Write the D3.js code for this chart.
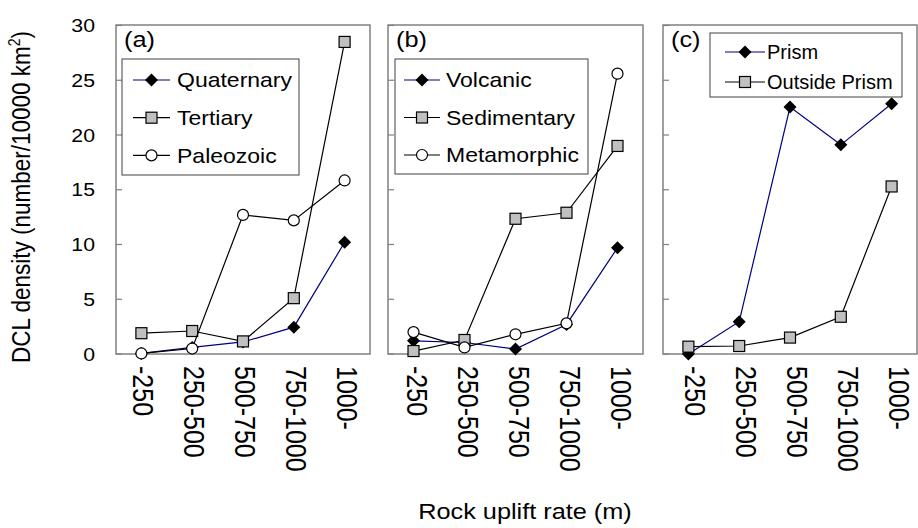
<!DOCTYPE html>
<html>
<head>
<meta charset="utf-8">
<script src="https://cdn.jsdelivr.net/npm/d3@7"></script>
<style>
  body { margin: 0; background: #fff; }
  text { font-family: "Liberation Sans", Arial, sans-serif; fill: #000; }
</style>
</head>
<body>
<div id="chart"></div>
<script>
// categories and ticks
const categories = ["-250", "250-500", "500-750", "750-1000", "1000-"];
const yTicks = [0, 5, 10, 15, 20, 25, 30];

// (a) age
const quaternary = [0.05, 0.6, 1.1, 2.45, 10.2];
const tertiary = [1.9, 2.1, 1.15, 5.1, 28.5];
const paleozoic = [0.05, 0.5, 12.7, 12.2, 15.85];

// (b) lithology
const volcanic = [1.2, 1.05, 0.45, 2.7, 9.7];
const sedimentary = [0.27, 1.28, 12.35, 12.9, 19.0];
const metamorphic = [2.0, 0.6, 1.8, 2.8, 25.6];

// (c) prism
const prism = [0.0, 2.95, 22.55, 19.1, 22.85];
const outsidePrism = [0.67, 0.73, 1.5, 3.4, 15.3];

var width = 918, height = 528;
var top_ = 25, bottom = 354;
var sx = 1.15; // the original picture is a bit wider than tall text-wise

var svg = d3.select("#chart").append("svg")
    .attr("width", width)
    .attr("height", height);

var y = d3.scaleLinear().domain([0, 30]).range([bottom, top_ + 0.5]);

var panels = [
  { id: "(a)", left: 116, right: 370, labelDx: 2,
    series: [
      { name: "Quaternary", values: quaternary, marker: "diamond", color: "#000080" },
      { name: "Tertiary", values: tertiary, marker: "square", color: "#000" },
      { name: "Paleozoic", values: paleozoic, marker: "circle", color: "#000" }
    ],
    legend: { x: 122, y: 59, w: 177, h: 116, first: 80, step: 37.7, lineX: 133, lineW: 37, textX: 177, fs: 20, sx: sx } },
  { id: "(b)", left: 388, right: 643, labelDx: 4,
    series: [
      { name: "Volcanic", values: volcanic, marker: "diamond", color: "#000080" },
      { name: "Sedimentary", values: sedimentary, marker: "square", color: "#000" },
      { name: "Metamorphic", values: metamorphic, marker: "circle", color: "#000" }
    ],
    legend: { x: 395, y: 59, w: 193, h: 115, first: 80, step: 37.5, lineX: 404, lineW: 36, textX: 446, fs: 20, sx: sx } },
  { id: "(c)", left: 663, right: 917, labelDx: 7,
    series: [
      { name: "Prism", values: prism, marker: "diamond", color: "#000080" },
      { name: "Outside Prism", values: outsidePrism, marker: "square", color: "#000" }
    ],
    legend: { x: 710, y: 33, w: 192, h: 64, first: 52, step: 30, lineX: 725, lineW: 40, textX: 767, fs: 20, sx: 1.0 } }
];

function drawMarker(g, type, cx, cy) {
  if (type == "diamond") {
    g.append("path")
      .attr("d", "M" + cx + "," + (cy - 6.5) + "L" + (cx + 6.5) + "," + cy + "L" + cx + "," + (cy + 6.5) + "L" + (cx - 6.5) + "," + cy + "Z")
      .attr("fill", "#000");
  } else if (type == "square") {
    g.append("rect")
      .attr("x", cx - 5.5).attr("y", cy - 5.5)
      .attr("width", 11).attr("height", 11)
      .attr("fill", "#c0c0c0")
      .attr("stroke", "#000")
      .attr("stroke-width", 1.2);
  } else {
    g.append("circle")
      .attr("cx", cx).attr("cy", cy).attr("r", 5.5)
      .attr("fill", "#fff")
      .attr("stroke", "#000")
      .attr("stroke-width", 1.2);
  }
}

function drawPanel(p) {
  var x = d3.scalePoint()
    .domain(categories)
    .range([p.left, p.right])
    .padding(0.5);

  var g = svg.append("g");

  // frame
  g.append("rect")
    .attr("x", p.left).attr("y", top_)
    .attr("width", p.right - p.left).attr("height", bottom - top_)
    .attr("fill", "none")
    .attr("stroke", "#808080")
    .attr("stroke-width", 1.5);

  // inward ticks on the left edge
  g.selectAll(".tick")
    .data(yTicks)
    .enter()
    .append("line")
      .attr("x1", p.left).attr("x2", p.left + 6)
      .attr("y1", d => y(d)).attr("y2", d => y(d))
      .attr("stroke", "#808080")
      .attr("stroke-width", 1.2);

  // rotated category labels
  g.selectAll(".xl")
    .data(categories)
    .enter()
    .append("text")
      .attr("transform", d => "translate(" + (x(d) + p.labelDx) + "," + 366 + ") scale(" + sx + ",1) rotate(90)")
      .attr("dy", "0.35em")
      .attr("font-size", 25)
      .text(d => d);

  var line = d3.line()
    .x((d, i) => x(categories[i]))
    .y(d => y(d));

  p.series.forEach(s => {
    g.append("path")
      .datum(s.values)
      .attr("d", line)
      .attr("fill", "none")
      .attr("stroke", s.color)
      .attr("stroke-width", 1.2);
    s.values.forEach((v, i) => drawMarker(g, s.marker, x(categories[i]), y(v)));
  });

  // legend
  var L = p.legend;
  g.append("rect")
    .attr("x", L.x).attr("y", L.y)
    .attr("width", L.w).attr("height", L.h)
    .attr("fill", "#fff")
    .attr("stroke", "#404040")
    .attr("stroke-width", 1);
  p.series.forEach((s, i) => {
    var ly = L.first + i * L.step;
    g.append("line")
      .attr("x1", L.lineX).attr("x2", L.lineX + L.lineW)
      .attr("y1", ly).attr("y2", ly)
      .attr("stroke", s.color)
      .attr("stroke-width", 1.2);
    drawMarker(g, s.marker, L.lineX + L.lineW / 2, ly);
    g.append("text")
      .attr("transform", "translate(" + L.textX + "," + ly + ") scale(" + L.sx + ",1)")
      .attr("dy", "0.36em")
      .attr("font-size", L.fs)
      .text(s.name);
  });

  // panel letter
  g.append("text")
    .attr("transform", "translate(" + (p.left + 8) + "," + 47 + ") scale(" + sx + ",1)")
    .attr("font-size", 22)
    .text(p.id);
}

panels.forEach(drawPanel);

// y tick labels (only left of panel a)
svg.selectAll(".yl")
  .data(yTicks)
  .enter()
  .append("text")
    .attr("transform", d => "translate(95," + y(d) + ") scale(" + sx + ",1)")
    .attr("text-anchor", "end")
    .attr("dy", "0.36em")
    .attr("font-size", 18.5)
    .text(d => d);

// axis titles
var yt = svg.append("text")
  .attr("transform", "translate(30,197) scale(" + sx + ",1) rotate(-90)")
  .attr("text-anchor", "middle")
  .attr("font-size", 22.5);
yt.append("tspan").text("DCL density (number/10000 km");
yt.append("tspan").attr("font-size", 14).attr("dy", -9).text("2");
yt.append("tspan").attr("dy", 9).text(")");

svg.append("text")
  .attr("transform", "translate(525,519) scale(" + sx + ",1)")
  .attr("text-anchor", "middle")
  .attr("font-size", 22)
  .text("Rock uplift rate (m)");
</script>
</body>
</html>
